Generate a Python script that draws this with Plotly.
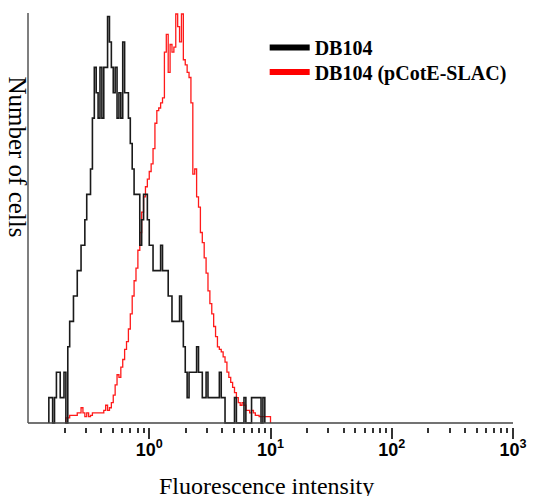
import plotly.graph_objects as go

# ---- data (counts per log channel) ----
CHANNELS_PER_DECADE = 64
LOG_MIN = -1.0

black_name = "DB104"
black_start = 11
black_counts = [1, 1, 0, 1, 2, 2, 1, 1, 2, 0,
                3, 4, 4, 5, 5, 6, 6, 7, 7, 8,
                9, 9, 10, 12, 14, 13, 12, 14, 12, 14,
                14, 16, 15, 14, 13, 14, 12, 13, 12, 15,
                13, 13, 12, 11, 10, 9, 9, 9, 7, 8,
                9, 9, 8, 7, 7, 6, 6, 6, 6, 7,
                6, 6, 6, 5, 5, 4, 4, 4, 4, 5,
                4, 3, 2, 1, 2, 2, 2, 2, 3, 2,
                2, 1, 1, 2, 1, 1, 1, 1, 1, 1,
                2, 1, 1, 0, 0, 0, 0, 0, 1, 0,
                0, 0, 0, 1, 0, 0, 0, 1, 1, 1,
                1, 1, 0, 1]

red_name = "DB104 (pCotE-SLAC)"
red_start = 20
red_counts = [0.2, 0.2, 0.3, 0.3, 0.3, 0.3, 0.4, 0.4, 0.6, 0.4,
              0.25, 0.4, 0.25, 0.3, 0.4, 0.4, 0.4, 0.4, 0.4, 0.4,
              0.5, 0.7, 0.5, 0.6, 0.8, 1.1, 1.5, 1.9, 1.8, 2.2,
              2.5, 2.9, 3.2, 3.7, 4.3, 5.0, 5.6, 6.1, 6.8, 7.5,
              8.3, 8.9, 9.3, 9.6, 9.9, 10.2, 10.8, 11.8, 12.3, 12.4,
              12.6, 12.8, 14.6, 15.3, 13.8, 14.9, 14.6, 14.8, 16.1, 15.6,
              15.0, 16.1, 14.3, 14.1, 13.8, 13.6, 12.6, 9.8, 10.0, 8.9,
              8.5, 7.5, 7.1, 6.5, 5.9, 5.2, 4.7, 4.3, 3.8, 3.4,
              3.0, 2.9, 2.8, 2.6, 2.4, 2.0, 1.8, 1.6, 1.4, 1.2,
              1.0, 0.8, 0.7, 0.8, 0.7, 0.5, 0.5, 0.4, 0.5, 0.4,
              0.3, 0.3, 0.25, 0.25, 0.25, 0.25, 0.25, 0.25]

major_ticks = [1, 10, 100, 1000]
major_labels = ["<b>10<sup>0</sup></b>", "<b>10<sup>1</sup></b>",
                "<b>10<sup>2</sup></b>", "<b>10<sup>3</sup></b>"]
minor_ticks = [m * 10 ** e for e in (-1, 0, 1, 2) for m in range(2, 10)]

Y_TOP = 16.14
Y_BOTTOM = -0.157


def step_xy(start, counts):
    edges = [10 ** (LOG_MIN + (start + k) / CHANNELS_PER_DECADE)
             for k in range(len(counts) + 1)]
    x = [edges[0]] + edges[:-1] + [edges[-1]]
    y = [0] + list(counts) + [0]
    return x, y


fig = go.Figure()

rx, ry = step_xy(red_start, red_counts)
bx, by = step_xy(black_start, black_counts)

fig.add_trace(go.Scatter(x=rx, y=ry, mode="lines", line_shape="hv",
                         line=dict(color="#ff1a1a", width=1.3),
                         showlegend=False, hoverinfo="skip"))
fig.add_trace(go.Scatter(x=bx, y=by, mode="lines", line_shape="hv",
                         line=dict(color="#1a1a1a", width=1.6),
                         showlegend=False, hoverinfo="skip"))

# legend entries
fig.add_trace(go.Scatter(x=[None], y=[None], mode="lines",
                         line=dict(color="black", width=6),
                         name="<b>" + black_name + "</b>", legend="legend"))
fig.add_trace(go.Scatter(x=[None], y=[None], mode="lines",
                         line=dict(color="#ff0000", width=6),
                         name="<b>" + red_name + "</b>", legend="legend2"))

legend_font = dict(family="Liberation Serif", size=20, color="black")
fig.update_layout(
    width=539, height=496,
    margin=dict(l=28, r=19, t=13, b=69),
    plot_bgcolor="white", paper_bgcolor="white",
    xaxis=dict(type="log", range=[-1, 3], showline=False, showgrid=False,
               zeroline=False, tickmode="array", tickvals=major_ticks,
               ticktext=major_labels, ticks="outside", ticklen=11,
               tickwidth=1.5, tickcolor="#333", ticklabeloverflow="allow",
               ticklabelstandoff=-5,
               tickfont=dict(family="Liberation Sans", size=18, color="black"),
               minor=dict(ticks="outside", ticklen=5, tickwidth=1.5,
                          tickcolor="#333", tickmode="array",
                          tickvals=minor_ticks, showgrid=False)),
    yaxis=dict(range=[Y_BOTTOM, Y_TOP], showline=False, showgrid=False,
               zeroline=False, showticklabels=False, ticks=""),
    legend=dict(x=0.488, y=0.9167, xanchor="left", yanchor="middle",
                font=legend_font, bgcolor="rgba(0,0,0,0)", itemwidth=40),
    legend2=dict(x=0.488, y=0.8575, xanchor="left", yanchor="middle",
                 font=legend_font, bgcolor="rgba(0,0,0,0)", itemwidth=40),
    shapes=[
        dict(type="line", xref="paper", x0=0, x1=1, yref="y", y0=0, y1=0,
             line=dict(color="#444", width=1.5)),
        dict(type="line", xref="paper", x0=0, x1=0, yref="y", y0=0, y1=Y_TOP,
             line=dict(color="#555", width=1.5)),
    ],
    annotations=[
        dict(text="Number of cells", textangle=90, xref="paper", yref="paper",
             x=-0.0213, y=0.652, xanchor="center", yanchor="middle",
             showarrow=False,
             font=dict(family="Liberation Serif", size=25, color="black")),
        dict(text="Fluorescence intensity", xref="paper", yref="paper",
             x=0.492, y=-0.142, xanchor="center", yanchor="middle",
             showarrow=False,
             font=dict(family="Liberation Serif", size=24, color="black")),
    ],
)

fig.write_html("out.html", config={"displayModeBar": False},
               post_script="document.body.style.margin='0';")
